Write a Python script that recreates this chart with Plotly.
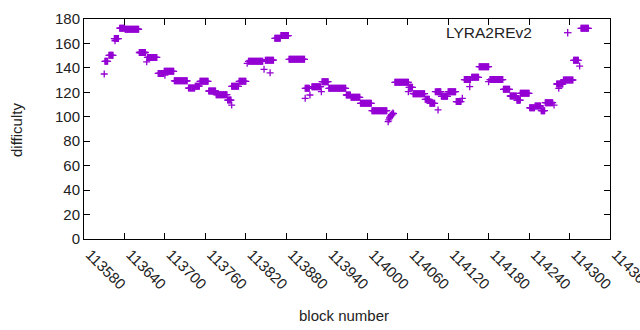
import plotly.graph_objects as go

# Runs of consecutive blocks sharing (visually) the same difficulty
run_start = [113611, 113617, 113625, 113633, 113641, 113662, 113674, 113690, 113699, 113714,
             113735, 113745, 113752, 113765, 113776, 113793, 113799, 113810, 113824, 113849,
             113863, 113872, 113884, 113908, 113918, 113933, 113943, 113969, 113976, 113990,
             114007, 114041, 114062, 114068, 114086, 114093, 114103, 114110, 114120, 114132,
             114144, 114155, 114166, 114182, 114202, 114212, 114222, 114227, 114241, 114249,
             114258, 114264, 114281, 114291, 114306, 114317]
run_end = [113615, 113623, 113631, 113640, 113661, 113671, 113688, 113698, 113713, 113733,
           113744, 113751, 113764, 113775, 113792, 113798, 113809, 113820, 113845, 113861,
           113871, 113883, 113907, 113914, 113931, 113942, 113968, 113975, 113989, 114006,
           114029, 114061, 114067, 114085, 114092, 114100, 114109, 114119, 114131, 114139,
           114153, 114165, 114180, 114201, 114211, 114221, 114226, 114240, 114248, 114257,
           114263, 114275, 114290, 114305, 114313, 114328]
run_diff = [145.4, 150.3, 164.0, 172.5, 171.6, 152.6, 148.6, 135.5, 137.2, 129.4,
            123.5, 125.0, 129.0, 121.1, 118.1, 113.7, 124.9, 129.0, 145.4, 146.3,
            164.2, 166.4, 147.0, 123.3, 124.6, 128.7, 123.3, 117.8, 115.9, 111.0,
            105.0, 128.2, 124.1, 118.9, 114.3, 111.0, 120.5, 116.7, 120.5, 112.4,
            130.4, 132.3, 141.0, 130.4, 122.5, 117.0, 113.5, 119.2, 107.4, 108.8,
            105.0, 111.5, 126.8, 130.1, 146.2, 172.4]

# Isolated blocks
pt_block = [113610, 113626, 113673, 113700, 113799, 113822, 113847, 113856, 113908, 113915,
            113932, 114031, 114032, 114033, 114034, 114035, 114036, 114037, 114038, 114039,
            114061, 114101, 114105, 114141, 114152, 114180, 114227, 114277, 114284, 114315]
pt_diff = [135.0, 162.2, 145.0, 134.0, 109.6, 143.7, 138.8, 136.0, 115.1, 117.8,
           120.5, 96.0, 97.5, 99.0, 100.0, 101.0, 102.0, 101.5, 103.0, 102.5,
           120.5, 120.5, 105.6, 115.1, 124.6, 128.7, 113.7, 109.6, 123.3, 141.5]

x_ticks = list(range(113580, 114361, 60))
y_ticks = list(range(0, 181, 20))

blocks, diffs = [], []
for s, e, d in zip(run_start, run_end, run_diff):
    for b in range(s, e + 1):
        blocks.append(b)
        diffs.append(d)
blocks += pt_block
diffs += pt_diff

COLOR = "#9400D3"
FONT = "Liberation Sans, Arial, sans-serif"

fig = go.Figure()
fig.add_trace(go.Scatter(
    x=blocks, y=diffs, mode="markers", name="LYRA2REv2",
    marker=dict(symbol="cross-thin", size=5, line=dict(color=COLOR, width=1.3), color=COLOR),
    showlegend=False, cliponaxis=False,
))

# Page body margin is removed by the post script, so the figure fills the window.
OFF = 0
W, H = 640 - OFF, 330 - OFF
L, R, T, B = 84 - OFF, 30, 19 - OFF, 91
pw, ph = W - L - R, H - T - B

def px(xp):  # window pixel -> paper fraction
    return (xp - OFF - L) / pw

def py(yp):
    return (H - B - (yp - OFF)) / ph

axis_common = dict(showline=True, linecolor="black", linewidth=1, mirror="ticks",
                   ticks="inside", ticklen=6, tickcolor="black", tickwidth=1,
                   showgrid=False, zeroline=False, automargin=False,
                   ticklabeloverflow="allow",
                   tickfont=dict(family=FONT, size=15, color="#222"))

fig.update_layout(
    width=W, height=H,
    margin=dict(l=L, r=R, t=T, b=B),
    plot_bgcolor="white", paper_bgcolor="white",
    font=dict(family=FONT, size=15, color="#222"),
    xaxis=dict(range=[113580, 114360], tickvals=x_ticks, ticktext=[str(v) for v in x_ticks],
               tickangle=45, ticklabelshift=6, **axis_common),
    yaxis=dict(range=[0, 180], tickvals=y_ticks, ticktext=[str(v) for v in y_ticks],
               **axis_common),
    annotations=[
        dict(text="block number", x=px(344), y=py(315), xref="paper", yref="paper",
             showarrow=False, xanchor="center", yanchor="middle",
             font=dict(family=FONT, size=15, color="#222")),
        dict(text="difficulty", x=px(16), y=py(130), xref="paper", yref="paper",
             showarrow=False, xanchor="center", yanchor="middle", textangle=-90,
             font=dict(family=FONT, size=15, color="#222")),
        dict(text="LYRA2REv2", x=px(534), y=py(32), xref="paper", yref="paper",
             showarrow=False, xanchor="right", yanchor="middle",
             font=dict(family=FONT, size=15.5, color="#222")),
    ],
    shapes=[
        dict(type="line", xref="paper", yref="paper", x0=px(564), x1=px(571.5),
             y0=py(32.7), y1=py(32.7), line=dict(color=COLOR, width=1.3)),
        dict(type="line", xref="paper", yref="paper", x0=px(567.7), x1=px(567.7),
             y0=py(29), y1=py(36.5), line=dict(color=COLOR, width=1.3)),
    ],
)

fig.write_html("out.html",
               config={"displayModeBar": False},
               post_script="document.body.style.margin='0';document.body.style.overflow='hidden';")
